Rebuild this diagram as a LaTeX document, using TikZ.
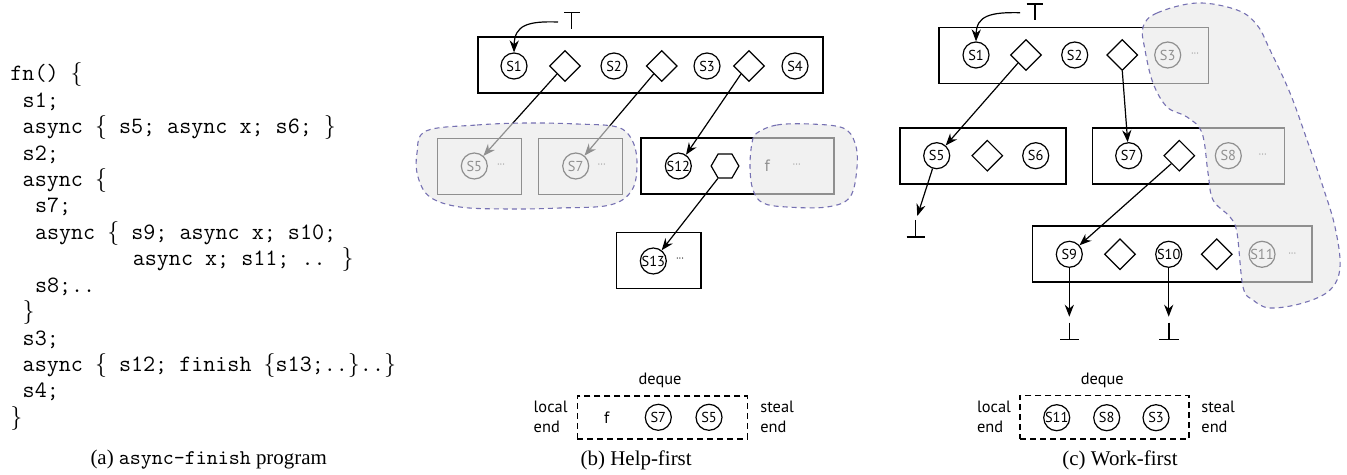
\documentclass[tikz,border=0pt]{standalone}
\usepackage{fontspec}
\setmainfont{Liberation Serif}
\newfontfamily\labfont{PT Sans}
\usetikzlibrary{arrows.meta,shapes.geometric}
\definecolor{blobline}{RGB}{118,113,178}
\tikzset{
  sbox/.style={draw, line width=0.75pt, inner sep=0, minimum height=28pt},
  st/.style={circle, draw, line width=0.6pt, inner sep=0, minimum size=13pt, font=\labfont\fontsize{7.2}{8}\selectfont},
  dia/.style={diamond, draw, line width=0.6pt, inner sep=0, minimum width=15.5pt, minimum height=15.5pt},
  hexa/.style={regular polygon, regular polygon sides=6, draw, line width=0.6pt, inner sep=0, minimum size=13.85pt},
  dotsx/.style={inner sep=0, font=\labfont\fontsize{5}{6}\selectfont},
  lab/.style={inner sep=0, font=\labfont\fontsize{8.2}{10.3}\selectfont},
  arr/.style={line width=0.6pt, -{Stealth[length=6pt,width=4.6pt]}},
  barline/.style={line width=0.6pt},
  blob/.style={draw=blobline, dash pattern=on 2.5pt off 2pt, line width=0.55pt, fill=black!9, fill opacity=0.62},
  deq/.style={draw, dash pattern=on 3pt off 2pt, line width=0.6pt, inner sep=0},
  codeline/.style={anchor=base west, inner sep=0, font=\ttfamily\fontsize{11.7}{13.2}\selectfont},
  captxt/.style={inner sep=0, font=\fontsize{10.46}{12}\selectfont},
}
\begin{document}
\begin{tikzpicture}[x=0.5pt,y=-0.5pt]
\useasboundingbox (0,0) rectangle (1347,475);

% ---------- (a) code ----------
\node[codeline] (l0)  at (10,81)     {fn() $\{$};
\node[codeline] (l1)  at (22.3,107.4) {s1;};
\node[codeline] (l2)  at (22.3,133.8) {async $\{$ s5; async x; s6; $\}$};
\node[codeline] (l3)  at (22.3,160.2) {s2;};
\node[codeline] (l4)  at (22.3,186.6) {async $\{$};
\node[codeline] (l5)  at (34.6,213)   {s7;};
\node[codeline] (l6)  at (34.6,239.4) {async $\{$ s9; async x; s10;};
\node[codeline] (l7)  at (132.4,265.8) {async x; s11; .. $\}$};
\node[codeline] (l8)  at (34.6,292.2) {s8;..};
\node[codeline] (l9)  at (22.3,318.6) {$\}$};
\node[codeline] (l10) at (22.3,345)   {s3;};
\node[codeline] (l11) at (22.3,371.4) {async $\{$ s12; finish $\{$s13;..$\}$..$\}$};
\node[codeline] (l12) at (22.3,397.8) {s4;};
\node[codeline] (l13) at (10,424.2)   {$\}$};
\node[captxt] (capa) at (208.7,460) {(a) \texttt{async-finish} program};

% ---------- (b) help-first ----------
\node[sbox, minimum width=172.5pt] (bt) at (650.5,65) {};
\node[st] (b1) at (514,66) {S1};
\node[dia] (bd1) at (565,66) {};
\node[st] (b2) at (614,66) {S2};
\node[dia] (bd2) at (661.7,66) {};
\node[st] (b3) at (707,66) {S3};
\node[dia] (bd3) at (749,66) {};
\node[st] (b4) at (795,66) {S4};

\coordinate (bTl) at (564,12.7);
\coordinate (bTr) at (580,12.7);
\coordinate (bTt) at (571.7,12.7);
\coordinate (bTb) at (571.7,29.3);
\draw[barline] (bTl) -- (bTr) (bTt) -- (bTb);
\coordinate (bTs) at (558,22);
\draw[arr] (bTs) .. controls (528,21) and (514.5,25) .. (b1.north);

\node[sbox, minimum width=42pt] (bx5) at (479.7,166.3) {};
\node[st] (b5) at (474.3,166) {S5};
\node[dotsx] (b5d) at (501,166) {···};
\node[sbox, minimum width=42pt] (bx7) at (580.3,166.3) {};
\node[st] (b7) at (575.7,166) {S7};
\node[dotsx] (b7d) at (601.7,166) {···};
\node[sbox, minimum width=96.5pt] (bx12) at (737.5,166.2) {};
\node[st] (b12) at (678.3,166) {S12};
\node[hexa] (bh) at (725,166) {};
\node[lab] (bf) at (767.3,166) {f};
\node[dotsx] (bfd) at (796.7,166) {···};
\node[sbox, minimum width=42.2pt] (bx13) at (658.8,260.7) {};
\node[st] (b13) at (653.3,261) {S13};
\node[dotsx] (b13d) at (680,260) {···};

\draw[arr] (bd1.south west) -- (b5);
\draw[arr] (bd2.south west) -- (b7);
\draw[arr] (bd3.south west) -- (b12);
\draw[arr] (bh.240) -- (b13);

\draw[blob] plot[smooth cycle, tension=0.6] coordinates {(426,131) (477,125) (527,123) (577,124) (617,127) (632,140) (637,163) (632,190) (610,205) (560,208) (510,209) (460,207) (430,197) (418,177) (417,153)};
\draw[blob] plot[smooth cycle, tension=0.6] coordinates {(757,133) (777,125) (810,124) (843,128) (855,143) (857,167) (850,197) (827,207) (787,207) (763,203) (753,190) (750,167) (752,143)};

\node[lab] (bdq) at (660,380) {deque};
\node[deq, minimum width=85pt, minimum height=21.5pt] (bdeq) at (662.3,417.5) {};
\node[lab] (bqf) at (606.7,417.3) {f};
\node[st] (bq7) at (658.3,417.3) {S7};
\node[st] (bq5) at (709,417.3) {S5};
\node[lab, anchor=west, align=left] (bloc) at (533.3,417) {local\\end};
\node[lab, anchor=west, align=left] (bste) at (760,417) {steal\\end};
\node[captxt] (capb) at (636.2,460) {(b) Help-first};

% ---------- (c) work-first ----------
\node[sbox, minimum width=134.7pt] (ct) at (1073.7,55.3) {};
\node[st] (c1) at (976,55) {S1};
\node[dia] (cd1) at (1026,55) {};
\node[st] (c2) at (1074.7,55) {S2};
\node[dia] (cd2) at (1122.3,55) {};
\node[st] (c3) at (1167.7,55) {S3};
\node[dotsx] (c3d) at (1195,55) {···};

\coordinate (cTl) at (1026.7,4);
\coordinate (cTr) at (1043.3,4);
\coordinate (cTt) at (1035,4);
\coordinate (cTb) at (1035,20);
\draw[barline] (cTl) -- (cTr) (cTt) -- (cTb);
\coordinate (cTs) at (1020,12.7);
\draw[arr] (cTs) .. controls (990,12) and (976.5,16) .. (c1.north);

\node[sbox, minimum width=83pt] (cx5) at (983,155.8) {};
\node[st] (c5) at (936.7,155.7) {S5};
\node[dia] (cd3) at (987.3,155.7) {};
\node[st] (c6) at (1035.7,155.7) {S6};

\node[sbox, minimum width=95.8pt] (cx7) at (1188.5,155.8) {};
\node[st] (c7) at (1128.7,155.7) {S7};
\node[dia] (cd4) at (1179.3,155.7) {};
\node[st] (c8) at (1228.3,155.7) {S8};
\node[dotsx] (c8d) at (1262.7,155.7) {···};

\node[sbox, minimum width=139.7pt] (cx9) at (1172.3,254) {};
\node[st] (c9) at (1069.3,254.3) {S9};
\node[dia] (cd5) at (1120,254.3) {};
\node[st] (c10) at (1168.7,254.3) {S10};
\node[dia] (cd6) at (1216.7,254.3) {};
\node[st] (c11) at (1262,254.3) {S11};
\node[dotsx] (c11d) at (1292.3,254.3) {···};

\draw[arr] (cd1.south west) -- (c5);
\draw[arr] (cd2.south) -- (c7);
\draw[arr] (cd4.south west) -- (c9);

\coordinate (e1) at (917.3,216);
\draw[arr] (c5) -- (e1);
\coordinate (e1t) at (915.5,220);
\coordinate (e1b) at (915.5,237);
\coordinate (e1l) at (906.5,237);
\coordinate (e1r) at (925,237);
\draw[barline] (e1t) -- (e1b) (e1l) -- (e1r);

\coordinate (e2) at (1069.3,316.7);
\draw[arr] (c9) -- (e2);
\coordinate (e2t) at (1069.5,322.7);
\coordinate (e2b) at (1069.5,339.5);
\coordinate (e2l) at (1060,339.5);
\coordinate (e2r) at (1079.3,339.5);
\draw[barline] (e2t) -- (e2b) (e2l) -- (e2r);

\coordinate (e3) at (1168.7,316.7);
\draw[arr] (c10) -- (e3);
\coordinate (e3t) at (1168.9,322.7);
\coordinate (e3b) at (1168.9,339.5);
\coordinate (e3l) at (1159.3,339.5);
\coordinate (e3r) at (1178.6,339.5);
\draw[barline] (e3t) -- (e3b) (e3l) -- (e3r);

\draw[blob] plot[smooth cycle, tension=0.6] coordinates {(1143,27) (1157,13) (1197,3) (1237,10) (1257,25) (1270,50) (1290,93) (1307,140) (1323,187) (1335,227) (1340,267) (1330,290) (1303,303) (1270,308) (1253,300) (1243,287) (1237,233) (1230,217) (1213,200) (1208,173) (1202,133) (1187,117) (1167,107) (1153,83) (1145,50)};

\node[lab] (cdq) at (1102.3,380) {deque};
\node[deq, minimum width=84.5pt, minimum height=21.7pt] (cdeq) at (1104.5,417.3) {};
\node[st] (cq11) at (1056.7,417.7) {S11};
\node[st] (cq8) at (1106.7,417.7) {S8};
\node[st] (cq3) at (1156,417.7) {S3};
\node[lab, anchor=west, align=left] (cloc) at (976.7,417) {local\\end};
\node[lab, anchor=west, align=left] (cste) at (1201,417) {steal\\end};
\node[captxt] (capc) at (1120,460) {(c) Work-first};
\end{tikzpicture}
\end{document}
